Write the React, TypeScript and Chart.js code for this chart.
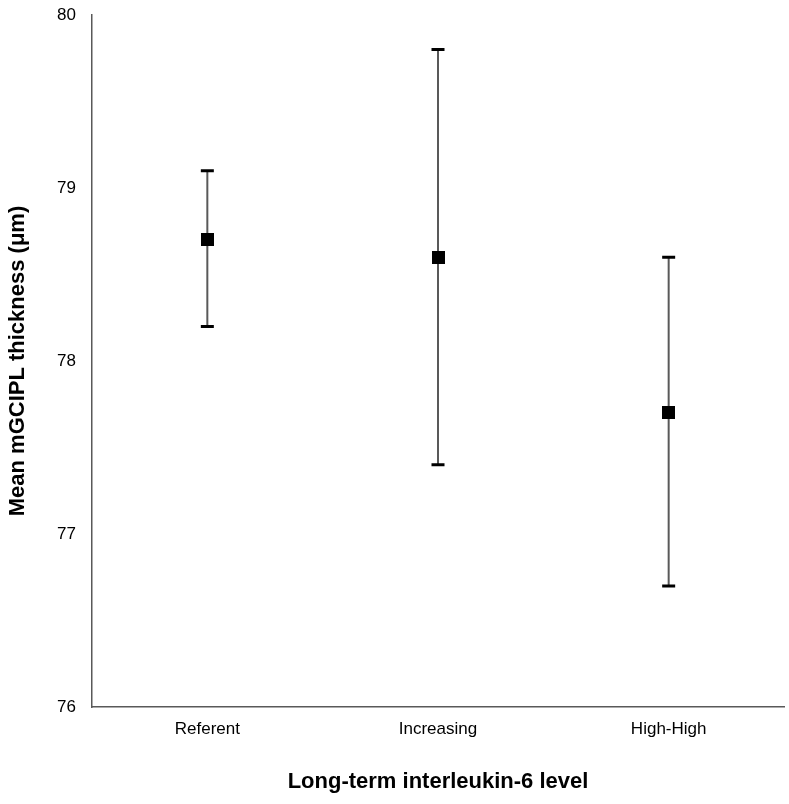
import React, { useEffect, useRef } from "react";
import { Chart, registerables } from "chart.js";

Chart.register(...registerables);

const categories = ["Referent", "Increasing", "High-High"];
const means = [78.7, 78.6, 77.7];
const lower = [78.2, 77.4, 76.7];
const upper = [79.1, 79.8, 78.6];
const yTicks = [76, 77, 78, 79, 80];

const FONT = "Arial, 'Liberation Sans', Helvetica, sans-serif";

const errorBars = {
  id: "errorBars",
  beforeDatasetsDraw(chart: any) {
    const ctx = chart.ctx;
    const x = chart.scales.x;
    const y = chart.scales.y;
    ctx.save();
    categories.forEach((_, i) => {
      const px = x.getPixelForValue(i);
      const pl = y.getPixelForValue(lower[i]);
      const pu = y.getPixelForValue(upper[i]);
      ctx.strokeStyle = "#595959";
      ctx.lineWidth = 2;
      ctx.beginPath();
      ctx.moveTo(px, pu);
      ctx.lineTo(px, pl);
      ctx.stroke();
      ctx.strokeStyle = "#000";
      ctx.lineWidth = 3;
      ctx.beginPath();
      ctx.moveTo(px - 6.5, pu);
      ctx.lineTo(px + 6.5, pu);
      ctx.moveTo(px - 6.5, pl);
      ctx.lineTo(px + 6.5, pl);
      ctx.stroke();
    });
    ctx.restore();
  },
};

function makeMarker(): HTMLCanvasElement {
  const c = document.createElement("canvas");
  c.width = 13;
  c.height = 13;
  const g = c.getContext("2d")!;
  g.fillStyle = "#000";
  g.fillRect(0, 0, 13, 13);
  return c;
}

export default function App() {
  const ref = useRef<HTMLCanvasElement>(null);
  useEffect(() => {
    document.body.style.margin = "0";
    document.documentElement.style.overflow = "hidden";
    const marker = makeMarker();
    const chart = new Chart(ref.current!, {
      type: "line",
      data: {
        labels: categories,
        datasets: [
          {
            data: means,
            showLine: false,
            pointStyle: marker,
            pointRadius: 2,
            pointHoverRadius: 2,
            pointBackgroundColor: "#000",
            pointBorderColor: "#000",
            pointBorderWidth: 0,
          },
        ],
      },
      options: {
        animation: false,
        responsive: false,
        maintainAspectRatio: false,
        layout: { padding: { top: 15, right: 5, left: 0, bottom: 0 } },
        plugins: { legend: { display: false }, tooltip: { enabled: false } },
        scales: {
          x: {
            type: "category",
            offset: true,
            grid: { display: false, drawTicks: false },
            border: { display: true, color: "#595959", width: 1.5 },
            ticks: { color: "#000", font: { family: FONT, size: 17 }, padding: 12 },
            title: {
              display: true,
              text: "Long-term interleukin-6 level",
              color: "#000",
              font: { family: FONT, size: 22, weight: "bold" },
              padding: { top: 0, bottom: 9 },
            },
            afterFit: (s: any) => {
              s.height = 97;
              s.paddingLeft = 0;
              s.paddingRight = 0;
            },
          },
          y: {
            min: 76,
            max: 80,
            afterBuildTicks: (s: any) => {
              s.ticks = yTicks.map((v) => ({ value: v }));
            },
            grid: { display: false, drawTicks: false },
            border: { display: true, color: "#595959", width: 1.5 },
            ticks: { color: "#000", font: { family: FONT, size: 17 }, padding: 16 },
            title: {
              display: true,
              text: "Mean mGCIPL thickness (μm)",
              color: "#000",
              font: { family: FONT, size: 22, weight: "bold" },
              padding: { top: 5, bottom: 0 },
            },
            afterFit: (s: any) => {
              s.width = 92;
              s.paddingTop = 0;
              s.paddingBottom = 0;
            },
          },
        },
      },
      plugins: [errorBars],
    });
    return () => chart.destroy();
  }, []);
  return (
    <div style={{ position: "relative", width: 789, height: 804, background: "#fff", overflow: "hidden" }}>
      <canvas ref={ref} width={789} height={804} style={{ display: "block", width: 789, height: 804 }} />
    </div>
  );
}
